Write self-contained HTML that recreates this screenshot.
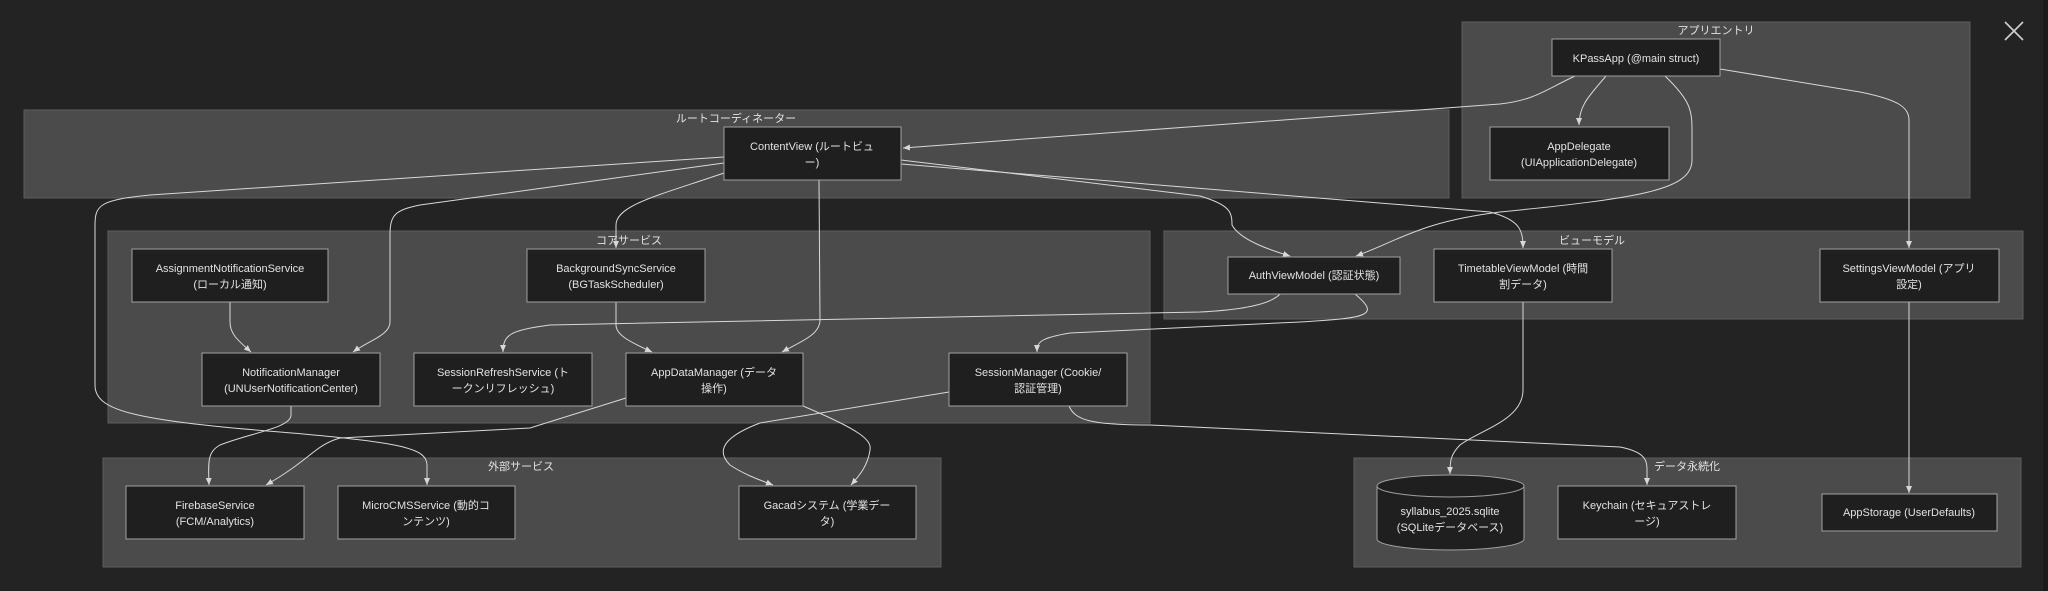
<!DOCTYPE html>
<html><head><meta charset="utf-8"><style>
html,body{margin:0;padding:0;background:#232323;}
svg{display:block}
text{font-family:"Liberation Sans","Noto Sans CJK JP",sans-serif;fill:#e2e2e2;font-size:11px;text-anchor:middle}
.c{fill:#4b4b4b;stroke:#5e5e5e;stroke-width:1}
.n{fill:#1f1f1f;stroke:#a0a0a0;stroke-width:1}
.e{fill:none;stroke:#d8d8d8;stroke-width:1}
</style></head><body>
<svg width="2048" height="591" viewBox="0 0 2048 591" xmlns="http://www.w3.org/2000/svg">
<defs><marker id="a" markerWidth="8" markerHeight="8" refX="7" refY="4" orient="auto" markerUnits="userSpaceOnUse"><path d="M0,1 L7,4 L0,7 z" fill="#d8d8d8"/></marker></defs>
<rect x="0" y="0" width="2048" height="591" fill="#232323"/>
<rect x="2043" y="0" width="5" height="591" fill="#1b1b1b"/>
<!-- clusters -->
<rect class="c" x="24" y="110" width="1425" height="88"/>
<text x="736" y="122">ルートコーディネーター</text>
<rect class="c" x="1462" y="22" width="508" height="176"/>
<text x="1716" y="34">アプリエントリ</text>
<rect class="c" x="108" y="231" width="1042" height="192"/>
<text x="629" y="244">コアサービス</text>
<rect class="c" x="1164" y="231" width="859" height="88"/>
<text x="1592" y="244">ビューモデル</text>
<rect class="c" x="103" y="458" width="838" height="109"/>
<text x="521" y="470">外部サービス</text>
<rect class="c" x="1354" y="458" width="667" height="109"/>
<text x="1687" y="470">データ永続化</text>
<!-- close X -->
<path d="M2005,22 L2023,40 M2023,22 L2005,40" stroke="#d0d0d0" stroke-width="1.6"/>
<!-- edges -->
<g class="e">
<path marker-end="url(#a)" d="M1575,76 C1545,90 1535,100 1500,104 L903,148"/>
<path marker-end="url(#a)" d="M1606,76 C1590,95 1579,105 1579,125"/>
<path marker-end="url(#a)" d="M1665,76 C1690,100 1692,110 1692,130 L1692,160 C1692,190 1640,198 1500,212 C1420,222 1400,240 1356,256"/>
<path marker-end="url(#a)" d="M1720,69 L1860,92 C1900,100 1909,108 1909,120 L1909,248"/>
<path marker-end="url(#a)" d="M901,160 L1200,196 C1230,205 1232,212 1232,225 C1240,240 1270,250 1290,256"/>
<path marker-end="url(#a)" d="M901,164 L1490,212 C1520,220 1523,230 1523,248"/>
<path marker-end="url(#a)" d="M724,173 C660,195 616,205 616,225 L616,248"/>
<path marker-end="url(#a)" d="M724,163 L420,205 C395,210 390,215 390,235 L390,322 C390,335 370,340 353,352"/>
<path marker-end="url(#a)" d="M724,157 L150,195 C100,200 95,205 95,225 L95,385 C95,410 130,420 280,432 C400,442 427,448 427,465 L427,485"/>
<path marker-end="url(#a)" d="M819,180 L820,320 C820,335 800,342 782,352"/>
<path marker-end="url(#a)" d="M230,302 L230,322 C230,335 240,342 251,352"/>
<path marker-end="url(#a)" d="M616,302 L616,325 C616,335 630,342 652,352"/>
<path marker-end="url(#a)" d="M1280,294 C1270,305 1240,310 1200,312 L550,325 C510,330 503,335 503,352"/>
<path marker-end="url(#a)" d="M1355,294 C1380,315 1370,318 1300,322 L1070,333 C1040,338 1037,342 1037,352"/>
<path marker-end="url(#a)" d="M291,406 L291,415 C291,428 250,433 220,445 C208,452 208,460 209,485"/>
<path marker-end="url(#a)" d="M626,398 L530,428 L340,438 C315,445 310,460 266,485"/>
<path marker-end="url(#a)" d="M803,406 C860,430 872,440 870,450 C868,465 860,475 851,485"/>
<path marker-end="url(#a)" d="M949,392 L760,423 C715,440 720,455 730,465 C745,475 760,480 773,485"/>
<path marker-end="url(#a)" d="M1069,406 C1075,420 1090,425 1150,425 L1620,447 C1645,452 1647,460 1647,470 L1647,485"/>
<path marker-end="url(#a)" d="M1523,302 L1523,390 C1523,420 1480,430 1460,445 C1450,455 1450,462 1450,474"/>
<path marker-end="url(#a)" d="M1909,302 L1909,493"/>
</g>
<!-- nodes -->
<rect class="n" x="1552" y="39" width="168" height="37"/>
<text x="1636" y="62">KPassApp (@main struct)</text>
<rect class="n" x="1490" y="127" width="179" height="53"/>
<text x="1579" y="150">AppDelegate</text><text x="1579" y="166">(UIApplicationDelegate)</text>
<rect class="n" x="724" y="127" width="177" height="53"/>
<text x="812" y="150">ContentView (ルートビュ</text><text x="812" y="166">ー)</text>
<rect class="n" x="132" y="249" width="196" height="53"/>
<text x="230" y="272">AssignmentNotificationService</text><text x="230" y="288">(ローカル通知)</text>
<rect class="n" x="527" y="249" width="178" height="53"/>
<text x="616" y="272">BackgroundSyncService</text><text x="616" y="288">(BGTaskScheduler)</text>
<rect class="n" x="1228" y="257" width="172" height="37"/>
<text x="1314" y="279">AuthViewModel (認証状態)</text>
<rect class="n" x="1434" y="249" width="178" height="53"/>
<text x="1523" y="272">TimetableViewModel (時間</text><text x="1523" y="288">割データ)</text>
<rect class="n" x="1820" y="249" width="179" height="53"/>
<text x="1909" y="272">SettingsViewModel (アプリ</text><text x="1909" y="288">設定)</text>
<rect class="n" x="202" y="353" width="178" height="53"/>
<text x="291" y="376">NotificationManager</text><text x="291" y="392">(UNUserNotificationCenter)</text>
<rect class="n" x="414" y="353" width="178" height="53"/>
<text x="503" y="376">SessionRefreshService (ト</text><text x="503" y="392">ークンリフレッシュ)</text>
<rect class="n" x="626" y="353" width="177" height="53"/>
<text x="714" y="376">AppDataManager (データ</text><text x="714" y="392">操作)</text>
<rect class="n" x="949" y="353" width="178" height="53"/>
<text x="1038" y="376">SessionManager (Cookie/</text><text x="1038" y="392">認証管理)</text>
<rect class="n" x="126" y="486" width="178" height="53"/>
<text x="215" y="509">FirebaseService</text><text x="215" y="525">(FCM/Analytics)</text>
<rect class="n" x="338" y="486" width="177" height="53"/>
<text x="426" y="509">MicroCMSService (動的コ</text><text x="426" y="525">ンテンツ)</text>
<rect class="n" x="739" y="486" width="177" height="53"/>
<text x="827" y="509">Gacadシステム (学業デー</text><text x="827" y="525">タ)</text>
<path class="n" d="M1377,486 A73.5,11 0 0 1 1524,486 L1524,539 A73.5,11 0 0 1 1377,539 Z"/>
<path class="n" d="M1377,486 A73.5,11 0 0 0 1524,486" fill="none"/>
<text x="1450" y="515">syllabus_2025.sqlite</text><text x="1450" y="531">(SQLiteデータベース)</text>
<rect class="n" x="1558" y="486" width="178" height="53"/>
<text x="1647" y="509">Keychain (セキュアストレ</text><text x="1647" y="525">ージ)</text>
<rect class="n" x="1822" y="494" width="175" height="37"/>
<text x="1909" y="516">AppStorage (UserDefaults)</text>
</svg>
</body></html>
